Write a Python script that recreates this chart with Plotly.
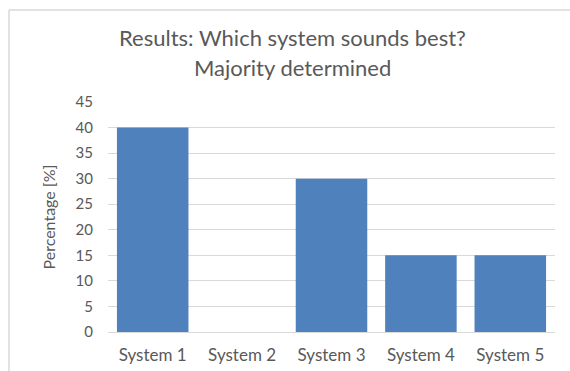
import plotly.graph_objects as go

categories = ["System 1", "System 2", "System 3", "System 4", "System 5"]
values = [40, 0, 30, 15, 15]
y_ticks = [0, 5, 10, 15, 20, 25, 30, 35, 40, 45]
title_lines = ["Results: Which system sounds best?", "Majority determined"]

FONT = "Lato"
GREY = "#595959"

L, R, T, B = 108, 15, 102, 39
PW, PH = 570 - L - R, 371 - T - B


def px_x(px):
    return (px - L) / PW


def px_y(py):
    return (371 - B - py) / PH


fig = go.Figure(go.Bar(x=categories, y=values, marker=dict(color="#4F81BD", line=dict(width=0))))

fig.update_layout(
    width=570, height=371,
    margin=dict(l=L, r=R, t=T, b=B, autoexpand=False),
    paper_bgcolor="white", plot_bgcolor="white",
    bargap=0.2,
    showlegend=False,
    font=dict(family=FONT, color=GREY),
    xaxis=dict(showgrid=False, showline=False, ticks="", tickfont=dict(size=17, color=GREY),
               ticklabelstandoff=11, automargin=False),
    yaxis=dict(range=[0, 45], tickvals=y_ticks, showgrid=True, gridcolor="#D9D9D9", gridwidth=1,
               zeroline=True, zerolinecolor="#D9D9D9", zerolinewidth=1, showline=False, ticks="",
               tickfont=dict(size=15, color=GREY), ticklabelstandoff=14, automargin=False,
               title=dict(text="Percentage [%]", font=dict(size=16, color=GREY), standoff=15)),
    annotations=[
        dict(text=title_lines[0], xref="paper", yref="paper", x=px_x(292), y=px_y(37),
             xanchor="center", yanchor="middle", showarrow=False,
             font=dict(family=FONT, size=22, color=GREY)),
        dict(text=title_lines[1], xref="paper", yref="paper", x=px_x(292), y=px_y(67),
             xanchor="center", yanchor="middle", showarrow=False,
             font=dict(family=FONT, size=22, color=GREY)),
    ],
    shapes=[
        dict(type="line", xref="paper", yref="paper", x0=px_x(9), x1=px_x(575),
             y0=px_y(10), y1=px_y(10), line=dict(color="#D9D9D9", width=1.5)),
        dict(type="line", xref="paper", yref="paper", x0=px_x(9), x1=px_x(9),
             y0=px_y(10), y1=px_y(380), line=dict(color="#D9D9D9", width=1.5)),
    ],
)

fig.write_html("out.html")
